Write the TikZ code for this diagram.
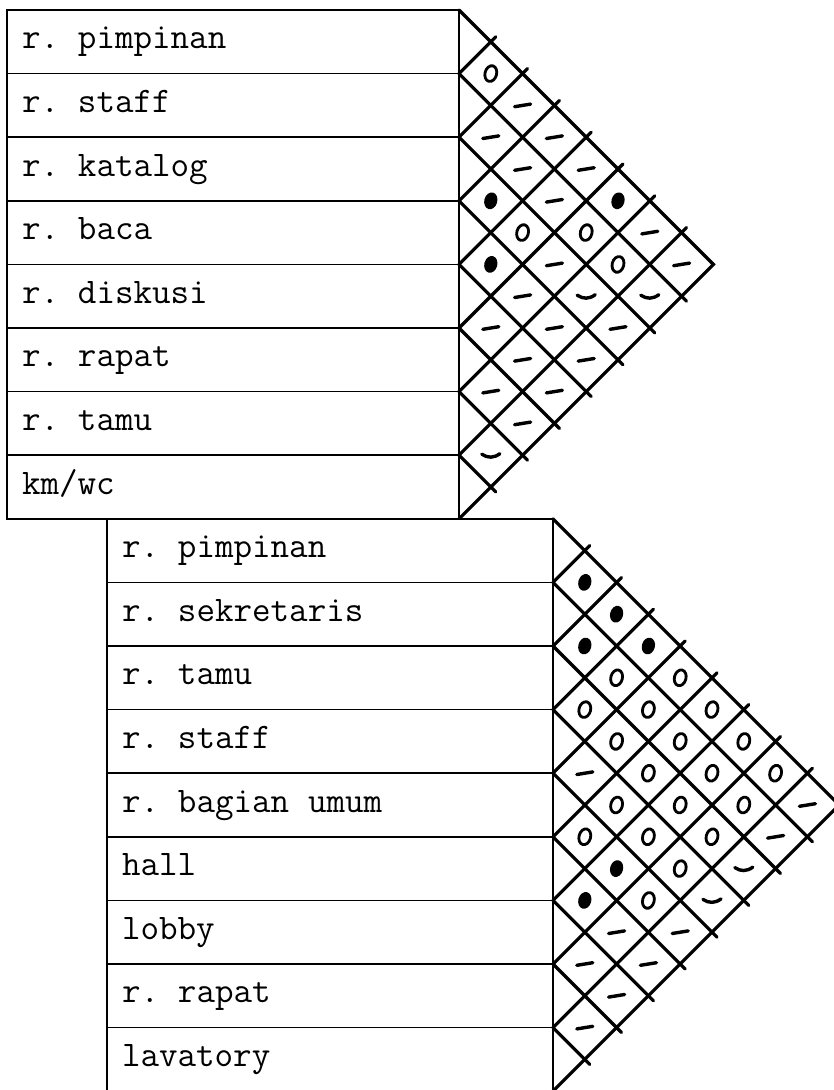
\documentclass[tikz,border=0pt]{standalone}
\usepackage{fontspec}
\newcommand\setttspaces{\spaceskip=18.9pt\relax\xspaceskip=18.9pt\relax}
\tikzset{
  rowbox/.style={draw, line width=1.6pt, anchor=north west, outer sep=0pt,
    minimum height=63.6pt, inner xsep=15pt, inner ysep=0pt,
    text height=22pt, text depth=8pt, align=left,
    font=\fontsize{36}{40}\selectfont\ttfamily,
    execute at begin node=\setttspaces},
  gridline/.style={line width=3.2pt, line cap=round},
  symline/.style={line width=2.8pt},
  dashline/.style={line width=3.4pt, line cap=round}
}
\newcommand\symo[2]{\draw[symline, shift={(#1,#2)}, rotate=-15] (0,0) ellipse [x radius=5.8, y radius=8];}
\newcommand\symf[2]{\fill[shift={(#1,#2)}, rotate=-15] (0,0) ellipse [x radius=6.5, y radius=8.5];}
\newcommand\symd[2]{\draw[dashline, shift={(#1,#2)}] (-8,1.3) -- (8,-1.3);}
\newcommand\symc[2]{\draw[dashline, shift={(#1,#2)}] (-9,-1) .. controls (-3,3) and (3,3) .. (9,-1.5);}
\newcommand\putsym[5]{%
  \pgfmathsetmacro\px{#1+(#4-#3)*31.8}%
  \pgfmathsetmacro\py{#2+(#3+#4+1)*31.8}%
  \csname sym#5\endcsname{\px}{\py}}
\begin{document}
\begin{tikzpicture}[x=1pt, y=-1pt]
\useasboundingbox (0,0) rectangle (833,1090);
% ---- top table ----
\foreach \t [count=\k from 0] in {r. pimpinan, r. staff, r. katalog, r. baca, r. diskusi, r. rapat, r. tamu, km/wc}
  \node[rowbox, text width=422pt] (a\k) at (7,{10+\k*63.6}) {\t};
% top matrix grid
\draw[gridline] (a0.north east) -- ++(254.4,254.4) -- (a7.south east);
\foreach \k in {1,...,7} {
  \draw[gridline] (459,{10+\k*63.6}) -- ++({(8-\k)*31.8+5},{(8-\k)*31.8+5});
  \draw[gridline] (459,{10+\k*63.6}) -- ++({\k*31.8+5},{-\k*31.8-5});
}
\foreach \i/\j/\s in {0/1/o,0/2/d,1/2/d,0/3/d,1/3/d,0/4/d,2/3/f,1/4/d,0/5/f,2/4/o,1/5/o,0/6/d,3/4/f,2/5/d,1/6/o,0/7/d,3/5/d,2/6/c,1/7/c,4/5/d,3/6/d,2/7/d,4/6/d,3/7/d,5/6/d,4/7/d,5/7/d,6/7/c}
  \putsym{459}{10}{\i}{\j}{\s};
% ---- bottom table ----
\foreach \t [count=\k from 0] in {r. pimpinan, r. sekretaris, r. tamu, r. staff, r. bagian umum, hall, lobby, r. rapat, lavatory}
  \node[rowbox, text width=416pt] (b\k) at (107,{518.8+\k*63.6}) {\t};
\draw[gridline] (b0.north east) -- ++(286.2,286.2) -- (b8.south east);
\foreach \k in {1,...,8} {
  \draw[gridline] (553,{518.8+\k*63.6}) -- ++({(9-\k)*31.8+5},{(9-\k)*31.8+5});
  \draw[gridline] (553,{518.8+\k*63.6}) -- ++({\k*31.8+5},{-\k*31.8-5});
}
\foreach \i/\j/\s in {0/1/f,0/2/f,1/2/f,0/3/f,1/3/o,0/4/o,2/3/o,1/4/o,0/5/o,2/4/o,1/5/o,0/6/o,3/4/d,2/5/o,1/6/o,0/7/o,0/8/d,3/5/o,2/6/o,1/7/o,4/5/o,3/6/o,2/7/o,1/8/d,4/6/f,3/7/o,2/8/c,5/6/f,4/7/o,3/8/c,5/7/d,4/8/d,6/7/d,5/8/d,6/8/d,7/8/d}
  \putsym{553}{518.8}{\i}{\j}{\s};
\end{tikzpicture}
\end{document}
